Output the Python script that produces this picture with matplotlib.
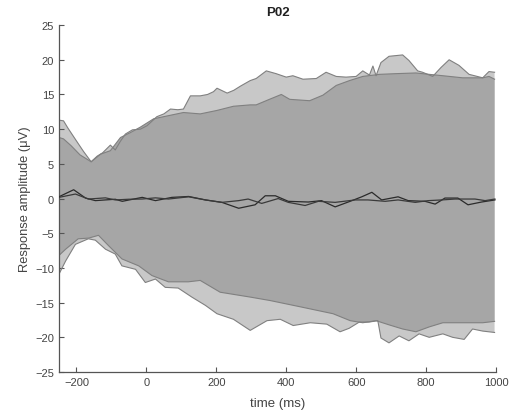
import matplotlib
matplotlib.use("Agg")
import matplotlib.pyplot as plt
import numpy as np

# Upper / lower envelopes of the wide band (light grey)
wide_upper_t = [-250, -237, -225, -200, -180, -158, -141, -125, -103, -89, -75, -60, -40, -17, 2, 30, 50, 69,
                90, 106, 126, 154, 175, 192, 202, 231, 250, 269, 297, 314, 343, 371, 400, 419, 448, 486,
                514, 543, 571, 600, 619, 638, 648, 657, 671, 694, 733, 751, 776, 790, 819, 843, 866, 894,
                923, 962, 980, 996]
wide_upper_v = [11.3, 11.2, 10.2, 8.3, 6.8, 5.3, 6.1, 6.6, 7.7, 7.0, 8.2, 9.3, 9.9, 10.0, 10.5, 11.8, 12.2, 12.9,
                12.8, 12.9, 14.8, 14.8, 15.0, 15.4, 15.9, 15.2, 15.6, 16.2, 17.0, 17.3, 18.4, 18.0, 17.5, 17.7,
                17.2, 17.3, 18.2, 17.6, 17.5, 17.6, 18.4, 17.8, 19.1, 17.7, 19.6, 20.5, 20.7, 19.9, 18.4, 18.2,
                17.6, 18.9, 20.0, 19.2, 17.9, 17.4, 18.3, 18.2]

wide_lower_t = [-250, -231, -203, -166, -146, -117, -89, -70, -31, -3, 26, 54, 91, 130, 169, 202, 249, 297,
                345, 383, 420, 469, 516, 554, 580, 609, 637, 662, 671, 694, 723, 751, 780, 809, 848, 876,
                909, 933, 962, 996]
wide_lower_v = [-10.9, -9.0, -6.6, -5.8, -6.0, -7.3, -8.0, -9.7, -10.2, -12.1, -11.6, -12.8, -12.9, -14.2,
                -15.4, -16.6, -17.4, -19.0, -17.6, -17.4, -18.3, -17.9, -18.1, -19.2, -18.7, -17.8, -17.8,
                -17.6, -20.1, -20.8, -19.8, -20.5, -19.5, -20.0, -19.5, -20.0, -20.3, -18.8, -19.1, -19.3]

# Upper / lower envelopes of the narrow band (dark grey)
narrow_upper_t = [-250, -237, -215, -190, -158, -131, -103, -74, -46, -17, 21, 59, 106, 154, 202, 249, 297,
                  314, 352, 386, 410, 467, 505, 543, 581, 619, 667, 714, 771, 809, 848, 905, 962, 980, 996]
narrow_upper_v = [8.8, 8.6, 7.6, 6.3, 5.3, 6.4, 6.9, 8.8, 9.5, 10.3, 11.5, 11.9, 12.4, 12.2, 12.7, 13.3, 13.5,
                  13.5, 14.3, 15.0, 14.3, 14.1, 14.9, 16.3, 17.0, 17.6, 17.9, 18.0, 18.1, 17.9, 17.7, 17.4,
                  17.4, 17.6, 17.2]

narrow_lower_t = [-250, -231, -195, -165, -137, -108, -70, -22, 16, 63, 120, 154, 211, 297, 354, 440, 534,
                  583, 619, 657, 694, 733, 771, 809, 848, 905, 962, 996]
narrow_lower_v = [-8.2, -7.3, -5.8, -5.7, -5.3, -6.8, -8.7, -9.7, -11.1, -12.0, -12.0, -11.8, -13.5, -14.2,
                  -14.7, -15.6, -16.6, -17.6, -17.9, -17.6, -18.2, -18.8, -19.2, -18.5, -17.9, -17.9, -17.9,
                  -17.7]

# Mean responses
mean_a_t = [-250, -208, -174, -146, -89, -69, -12, 26, 73, 121, 169, 216, 264, 311, 340, 369, 406, 463, 501,
            540, 588, 616, 645, 673, 720, 749, 797, 826, 854, 891, 920, 959, 997]
mean_a_v = [0.26, 1.27, 0.07, -0.3, -0.1, -0.4, 0.17, -0.3, 0.17, 0.3, -0.2, -0.55, -1.4, -0.9, 0.4, 0.4,
            -0.4, -0.5, -0.3, -1.2, -0.3, 0.25, 0.9, -0.2, 0.25, -0.3, -0.4, -0.8, 0.07, 0.07, -0.9, -0.5, -0.2]

mean_b_t = [-250, -203, -166, -117, -89, -51, -12, 26, 63, 121, 169, 216, 264, 291, 330, 377, 406, 454, 492,
            540, 597, 634, 683, 720, 769, 806, 845, 883, 940, 969, 997]
mean_b_v = [0.17, 0.65, -0.07, 0.1, -0.2, -0.1, -0.07, 0.1, -0.07, 0.25, -0.2, -0.55, -0.3, -0.07, -0.7,
            0.0, -0.55, -1.0, -0.4, -0.55, -0.2, -0.2, -0.4, -0.2, -0.55, -0.3, -0.2, -0.07, -0.07, -0.3,
            -0.07]

x_ticks = [-200, 0, 200, 400, 600, 800, 1000]
y_ticks = [-25, -20, -15, -10, -5, 0, 5, 10, 15, 20, 25]

axis_col = "#555555"
plt.rcParams["font.family"] = ["Liberation Sans", "DejaVu Sans"]

fig = plt.figure(figsize=(5.12, 4.14), dpi=100)
ax = fig.add_axes([0.1152, 0.099, 0.8535, 0.838])


def band(ax, ut, uv, lt, lv, face):
    xs = np.concatenate([ut, lt[::-1]])
    ys = np.concatenate([uv, lv[::-1]])
    ax.fill(xs, ys, facecolor=face, edgecolor="none", zorder=1)
    ax.plot(ut, uv, color="#808080", lw=0.8, zorder=2)
    ax.plot(lt, lv, color="#808080", lw=0.8, zorder=2)


band(ax, np.array(wide_upper_t), np.array(wide_upper_v),
     np.array(wide_lower_t), np.array(wide_lower_v), "#c8c8c8")
band(ax, np.array(narrow_upper_t), np.array(narrow_upper_v),
     np.array(narrow_lower_t), np.array(narrow_lower_v), "#a6a6a6")

ax.plot(mean_a_t, mean_a_v, color="#2b2b2b", lw=0.9, zorder=3)
ax.plot(mean_b_t, mean_b_v, color="#3a3a3a", lw=0.9, zorder=3)

ax.set_xlim(-250, 1000)
ax.set_ylim(-25, 25)
ax.set_xticks(x_ticks)
ax.set_yticks(y_ticks)
ax.spines["top"].set_visible(False)
ax.spines["right"].set_visible(False)
for s in ("left", "bottom"):
    ax.spines[s].set_color(axis_col)
    ax.spines[s].set_linewidth(0.9)
ax.tick_params(direction="in", length=3.5, width=0.8, color=axis_col,
               labelcolor="#444444", labelsize=8)

ax.set_title("P02", fontsize=9.5, fontweight="bold", color="#222222", pad=7)
ax.set_xlabel("time (ms)", fontsize=9.5, color="#444444", labelpad=7)
ax.set_ylabel("Response amplitude (\u03bcV)", fontsize=9.3, color="#444444", labelpad=3)

fig.savefig("out.png", dpi=100)
